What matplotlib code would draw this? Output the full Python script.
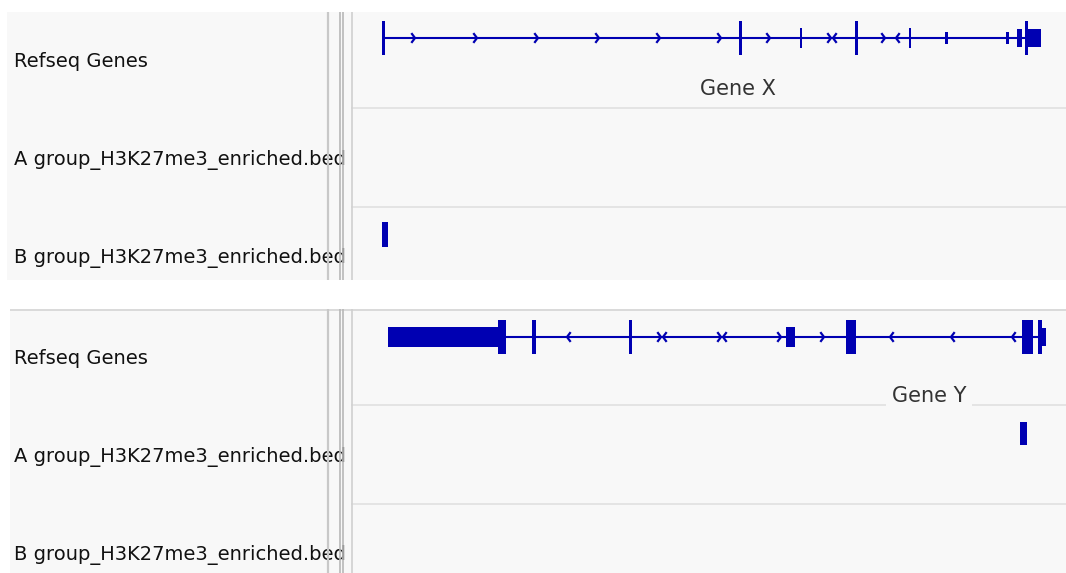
import matplotlib
matplotlib.use('Agg')
import matplotlib.pyplot as plt

W, H = 1066, 573
BLUE = '#0000b2'
BG = '#f8f8f8'

track_names = ['Refseq Genes',
               'A group_H3K27me3_enriched.bed',
               'B group_H3K27me3_enriched.bed']

# positions are in view units (0 .. 714 across the data panel)
# exons: (start, end, half height)
geneX_name = 'Gene X'
geneX_span = (31, 689)
geneX_exons = [(29.5, 33, 17), (387, 390, 17), (447.5, 449.5, 10), (503, 506, 17),
               (557, 559, 10), (592.5, 595.5, 6), (654, 656.5, 6), (665, 670, 9),
               (673, 676, 17), (676, 689, 9)]
geneX_fwd = [62, 124, 185, 246, 307, 368, 417, 478, 532]
geneX_rev = [482, 545]
geneX_label_pos = (386, 83)

geneY_name = 'Gene Y'
geneY_span = (36, 694)
geneY_exons = [(36, 146, 10), (146, 154, 17), (179.5, 183.5, 17), (276.5, 279.5, 17),
               (434, 443, 10), (494, 504, 17), (670, 681, 17), (686, 690, 17),
               (690, 694, 9)]
geneY_fwd = [308, 368, 428, 471]
geneY_rev = [216, 312, 372, 539, 600, 661]
geneY_label_pos = (577, 93)

# enriched regions (start, end) per bed track
panel1_A_peaks = []
panel1_B_peaks = [(30, 36)]
panel2_A_peaks = [(667.5, 675)]
panel2_B_peaks = []


def rect(x0, y0, x1, y1):
    return [x0 / W, 1 - y1 / H, (x1 - x0) / W, (y1 - y0) / H]


def draw_panel(left, top, bottom, gene, peaks_a, peaks_b, top_border):
    span, exons, fwd, rev, center, name, label_pos = gene
    h = bottom - top

    bg = fig.add_axes(rect(left, top, W, bottom))
    bg.set_xlim(left, W)
    bg.set_ylim(bottom, top)
    bg.set_facecolor(BG)
    bg.set_xticks([])
    bg.set_yticks([])
    for s in bg.spines.values():
        s.set_visible(False)
    if top_border:
        bg.axhline(top + 0.5, color='#d4d4d4', lw=1.2)

    # track names
    for k, txt in enumerate(track_names):
        bg.text(14, top + 55 + 98 * k, txt, fontsize=14, color='#111111',
                family='DejaVu Sans', va='baseline', ha='left')

    # dividers between name / attribute / data panels
    for xv, c, lw in [(327.5, '#c8c8c8', 1.6), (339.5, '#b8b8b8', 1.2),
                      (342.5, '#b8b8b8', 1.2), (351.5, '#d0d0d0', 1.2)]:
        bg.axvline(xv, color=c, lw=lw, zorder=5)

    # track separators
    for ys in [95.5, 194.5]:
        bg.plot([352, W], [top + ys, top + ys], color='#e2e2e2', lw=1.3)

    ax = fig.add_axes(rect(352, top, W, bottom))
    ax.set_xlim(0, 714)
    ax.set_ylim(h, 0)
    ax.axis('off')

    # gene model
    ax.plot(span, [center, center], color=BLUE, lw=1.5, solid_capstyle='butt')
    for s, e, hh in exons:
        ax.broken_barh([(s, e - s)], (center - hh, 2 * hh), color=BLUE, lw=0)
    for x in fwd:
        ax.plot([x - 2, x + 1, x - 2], [center - 4, center, center + 4],
                color=BLUE, lw=1.6)
    for x in rev:
        ax.plot([x + 2, x - 1, x + 2], [center - 4, center, center + 4],
                color=BLUE, lw=1.6)
    ax.text(label_pos[0], label_pos[1], name, fontsize=15, color='#333333',
            ha='center', va='baseline',
            bbox=dict(facecolor=BG, edgecolor='none', pad=4))

    # bed features
    ax.broken_barh([(s, e - s) for s, e in peaks_a], (96 + 17, 23), color=BLUE, lw=0)
    ax.broken_barh([(s, e - s) for s, e in peaks_b], (194 + 16, 25), color=BLUE, lw=0)


fig = plt.figure(figsize=(W / 100, H / 100), dpi=100)
fig.patch.set_facecolor('white')

draw_panel(7, 12, 280,
           (geneX_span, geneX_exons, geneX_fwd, geneX_rev, 26, geneX_name, geneX_label_pos),
           panel1_A_peaks, panel1_B_peaks, False)
draw_panel(10, 309, 573,
           (geneY_span, geneY_exons, geneY_fwd, geneY_rev, 28, geneY_name, geneY_label_pos),
           panel2_A_peaks, panel2_B_peaks, True)

fig.savefig('out.png', dpi=100)
